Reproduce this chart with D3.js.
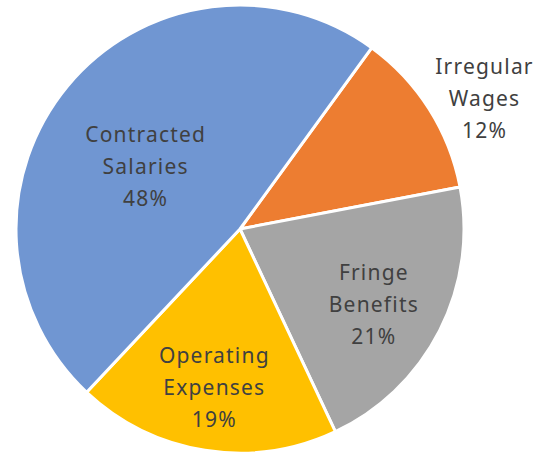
<!DOCTYPE html>
<html><head><meta charset="utf-8">
<script src="https://cdn.jsdelivr.net/npm/d3@7"></script>
<style>body{margin:0;background:#fff}text{font-family:"Noto Sans",sans-serif}</style>
</head><body><svg id="c" width="545" height="455"></svg>
<script>
const categories = ["Irregular Wages","Fringe Benefits","Operating Expenses","Contracted Salaries"];
const labelLines = [["Irregular","Wages"],["Fringe","Benefits"],["Operating","Expenses"],["Contracted","Salaries"]];
const values = [12,21,19,48];
const colors = ["#ED7D31","#A5A5A5","#FFC000","#7096D2"];

const W=545,H=455,cx=240,cy=229,R=224;
const startDeg=36;
// label placement: radius fraction and angle shift (deg) from slice mid angle
const labelRad=[1.22,0.70,0.75,0.49];
const labelShift=[5.6,4.8,0,-9.5];
const svg=d3.select("#c");
const g=svg.append("g").attr("transform",`translate(${cx},${cy})`);
const pie=d3.pie().sort(null).value(d=>d).startAngle(startDeg*Math.PI/180).endAngle(startDeg*Math.PI/180+2*Math.PI);
const arcs=pie(values);
const arc=d3.arc().innerRadius(0).outerRadius(R);
g.selectAll("path").data(arcs).join("path").attr("d",arc)
 .attr("fill",(d,i)=>colors[i]).attr("stroke","#fff").attr("stroke-width",3).attr("stroke-linejoin","round");
const total=d3.sum(values);
arcs.forEach((d,i)=>{
  const r=R*labelRad[i];
  const a=(d.startAngle+d.endAngle)/2+labelShift[i]*Math.PI/180;
  const x=r*Math.sin(a), y=-r*Math.cos(a);
  const lines=[...labelLines[i], Math.round(d.value/total*100)+"%"];
  const t=g.append("text").attr("text-anchor","middle").attr("fill","#404040")
    .attr("font-size",21).attr("letter-spacing",1.2);
  lines.forEach((s,k)=>{
    t.append("tspan").attr("x",x+0.6).attr("y",y+(k-1)*32).text(s);
  });
});
</script></body></html>
